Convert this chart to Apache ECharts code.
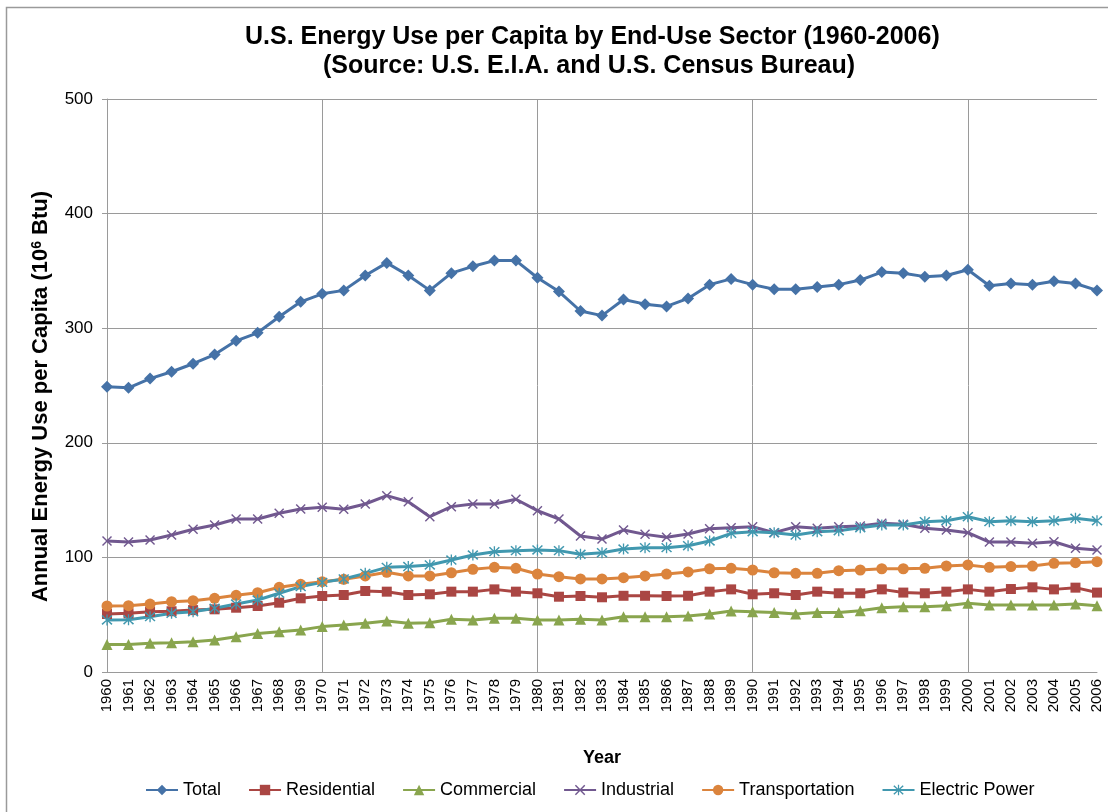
<!DOCTYPE html>
<html lang="en">
<head>
    <meta charset="UTF-8">
    <title>U.S. Energy Use per Capita</title>
    <style>
        body {
            margin: 0;
            padding: 0;
            background-color: #fff;
        }
        #chart {
            width: 1108px;
            height: 812px;
        }
    </style>
    <script src="https://cdn.jsdelivr.net/npm/echarts@6/dist/echarts.min.js"></script>
</head>
<body>
<div id="chart"></div>
<script>
	var chart = echarts.init(document.getElementById('chart'));

	var years = [];
	for (var y = 1960; y <= 2006; y++) years.push(String(y));

	var total = [249, 248, 256, 262, 269, 277, 289, 296, 310, 323,
		330, 333, 346, 357, 346, 333, 348, 354, 359, 359,
		344, 332, 315, 311, 325, 321, 319, 326, 338, 343,
		338, 334, 334, 336, 338, 342, 349, 348, 345, 346,
		351, 337, 339, 338, 341, 339, 333];
	var residential = [50.6, 51.2, 52.6, 53, 54, 54.7, 56.1, 57.6, 60.5, 64.3,
		66.3, 67.2, 70.7, 70.1, 67.2, 67.8, 70.1, 70.1, 72.1, 70.1,
		68.7, 65.7, 66.3, 65.2, 66.5, 66.5, 66.3, 66.5, 70.1, 72.1,
		67.8, 68.7, 67.2, 70.1, 68.7, 68.7, 72.1, 69.3, 68.7, 70.1,
		72.1, 70.1, 72.4, 73.9, 72.1, 73.6, 69.3];
	var commercial = [24.1, 24.1, 25, 25.6, 26.5, 27.9, 30.8, 33.7, 35.2, 36.6,
		39.6, 41, 42.5, 44.5, 42.5, 43, 46, 45.4, 46.8, 46.8,
		45.4, 45.4, 46, 45.4, 48.3, 48.3, 48.3, 48.8, 50.6, 53.2,
		52.6, 52, 50.6, 52, 52, 53.5, 56.1, 57, 57, 57.9,
		59.9, 58.5, 58.5, 58.5, 58.5, 59.3, 57.9];
	var industrial = [114.3, 113.4, 115.2, 119.5, 124.5, 128.3, 133.5, 133.5, 138.5, 142.2,
		143.7, 142, 146.6, 153.9, 148.6, 135.5, 144.3, 146.6, 146.6, 150.7,
		140.8, 133.5, 118.7, 116, 123.9, 120.1, 117.5, 120.4, 125, 125.9,
		126.8, 121.6, 126.8, 125.4, 126.8, 127.4, 129.7, 128.9, 125.4, 123.9,
		121.6, 113.4, 113.4, 112.3, 113.7, 107.9, 106.5];
	var transportation = [57.6, 57.9, 59.3, 61.4, 62.2, 64.3, 66.9, 69.2, 73.9, 76.5,
		78.8, 80.9, 83.8, 87, 83.8, 83.8, 86.6, 89.6, 91.3, 90.5,
		85.5, 83.2, 81.2, 81.2, 82.3, 83.8, 85.5, 87.3, 90.1, 90.5,
		89, 86.6, 86.1, 86.1, 88.4, 89, 90.1, 90.1, 90.5, 92.5,
		93.4, 91.3, 92, 92.5, 94.8, 95.4, 96.3];
	var electricPower = [45.4, 45.6, 48.3, 51.2, 52.6, 55.6, 59.3, 62.8, 68.7, 74.5,
		78.2, 81.2, 86.1, 91.3, 92, 93.4, 97.7, 102.1, 105, 105.9,
		106.5, 105.9, 102.7, 104.1, 107.3, 108.5, 108.5, 110.2, 114.3, 121,
		122.4, 121.6, 119.5, 122.4, 123.3, 125.9, 128.3, 128.3, 131.2, 132,
		135.5, 131.2, 132, 131.2, 132, 134.1, 132];

	var yTicks = [0, 100, 200, 300, 400, 500];

	// x and asterisk markers drawn as filled shapes
	var crossPath = 'path://M0,1L1,0L5,4L9,0L10,1L6,5L10,9L9,10L5,6L1,10L0,9L4,5Z';
	var starPath = 'path://M0,1.5L1,0.5L5,4.3L9,0.5L10,1.5L5.9,5L10,8.5L9,9.5L5,5.7L1,9.5L0,8.5L4.1,5Z' +
		'M4.4,0L5.6,0L5.6,10L4.4,10Z';

	var font = 'Liberation Sans, Arial, sans-serif';
	var titleStyle = {
		fontFamily: font,
		fontSize: 25,
		fontWeight: 'bold',
		color: '#000'
	};

	function makeSeries(name, data, color, symbol, size) {
		return {
			name: name,
			type: 'line',
			data: data,
			symbol: symbol,
			symbolSize: size,
			showAllSymbol: true,
			lineStyle: {width: 3, color: color},
			itemStyle: {color: color},
			emphasis: {disabled: true},
			animation: false
		};
	}

	var option = {
		textStyle: {fontFamily: font},
		title: [{
			text: 'U.S. Energy Use per Capita by End-Use Sector (1960-2006)',
			left: 245,
			top: 25,
			padding: 0,
			textStyle: titleStyle
		}, {
			text: '(Source: U.S. E.I.A. and U.S. Census Bureau)',
			left: 323,
			top: 54,
			padding: 0,
			textStyle: titleStyle
		}],
		legend: {
			bottom: 8,
			left: 140,
			itemGap: 27,
			itemWidth: 32,
			itemHeight: 13,
			textStyle: {fontFamily: font, fontSize: 18, color: '#000'},
			data: ['Total', 'Residential', 'Commercial', 'Industrial', 'Transportation', 'Electric Power']
		},
		graphic: [{
			type: 'rect',
			shape: {x: 6.5, y: 7.5, width: 1120, height: 830},
			style: {fill: 'none', stroke: '#9a9a9a', lineWidth: 1.5},
			silent: true
		}],
		grid: {
			left: 107,
			right: 11,
			top: 99,
			bottom: 140
		},
		xAxis: {
			type: 'category',
			data: years,
			boundaryGap: false,
			name: 'Year',
			nameLocation: 'middle',
			nameGap: 77,
			nameTextStyle: {fontFamily: font, fontSize: 18, fontWeight: 'bold', color: '#000'},
			axisLine: {lineStyle: {color: '#9a9a9a', width: 1}},
			axisTick: {show: false},
			axisLabel: {
				interval: 0,
				rotate: 90,
				margin: 7,
				fontFamily: font,
				fontSize: 15,
				color: '#000'
			},
			splitLine: {
				show: true,
				interval: function (index) { return index % 10 === 0; },
				lineStyle: {color: '#9a9a9a', width: 1}
			}
		},
		yAxis: {
			type: 'value',
			min: yTicks[0],
			max: yTicks[yTicks.length - 1],
			interval: 100,
			name: 'Annual Energy Use per Capita (10{sup|6} Btu)',
			nameLocation: 'middle',
			nameGap: 55,
			nameTextStyle: {
				fontFamily: font,
				fontSize: 22,
				fontWeight: 'bold',
				color: '#000',
				padding: [0, 22, 0, 0],
				rich: {
					sup: {fontFamily: font, fontSize: 14, fontWeight: 'bold', color: '#000', verticalAlign: 'top', padding: [0, 0, 7, 0]}
				}
			},
			axisLine: {show: true, lineStyle: {color: '#9a9a9a', width: 1}},
			axisTick: {show: true, length: 5, lineStyle: {color: '#9a9a9a'}},
			axisLabel: {
				margin: 14,
				fontFamily: font,
				fontSize: 17,
				color: '#000'
			},
			splitLine: {lineStyle: {color: '#9a9a9a', width: 1}}
		},
		series: [
			makeSeries('Total', total, '#4572A7', 'diamond', 12),
			makeSeries('Residential', residential, '#AA4643', 'rect', 10),
			makeSeries('Commercial', commercial, '#89A54E', 'triangle', 11),
			makeSeries('Industrial', industrial, '#71588F', crossPath, 10),
			makeSeries('Transportation', transportation, '#DB843D', 'circle', 11),
			makeSeries('Electric Power', electricPower, '#4198AF', starPath, 11)
		]
	};
	chart.setOption(option);
	window.onresize = chart.resize;
</script>
</body>
</html>
